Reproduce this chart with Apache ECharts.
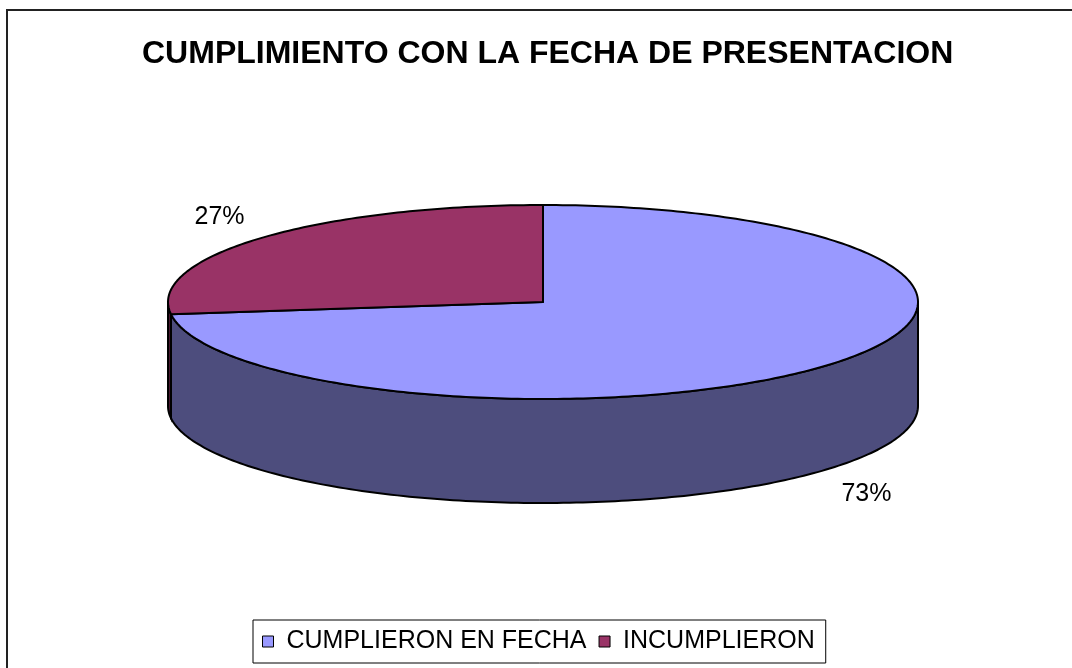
<!DOCTYPE html>
<html>
<head>
<meta charset="utf-8">
<script src="https://cdn.jsdelivr.net/npm/echarts@6/dist/echarts.min.js"></script>
<style>
  html, body { margin: 0; padding: 0; background: #fff; }
  #chart { width: 1072px; height: 668px; }
</style>
</head>
<body>
<div id="chart"></div>
<script>
// datos
var categories = ["CUMPLIERON EN FECHA", "INCUMPLIERON"];
var values = [73, 27];

var topColors = ["#9999ff", "#993366"];
var sideColors = ["#4d4d7d", "#4d1a33"];
var font = '"Liberation Sans", Arial, sans-serif';

// geometria del pastel 3D
var cx = 543, cy = 302, rx = 375, ry = 97, depth = 104;

var total = values.reduce(function (a, b) { return a + b; }, 0);
var slices = [];
var ang = 90;
values.forEach(function (v) {
  var sweep = v / total * 360;
  slices.push({ start: ang, end: ang - sweep, pct: Math.round(v / total * 100) + "%" });
  ang -= sweep;
});

function pt(deg, dy) {
  var r = deg * Math.PI / 180;
  return [cx + rx * Math.cos(r), cy - ry * Math.sin(r) + (dy || 0)];
}

function arc(from, to, dy) {
  var pts = [];
  var n = Math.max(2, Math.ceil(Math.abs(from - to)));
  for (var k = 0; k <= n; k++) {
    pts.push(pt(from + (to - from) * k / n, dy));
  }
  return pts;
}

function renderSlice(params, api) {
  var i = params.seriesIndex;
  var s = slices[i];
  var children = [];
  // lado frontal
  [[-180, 0], [-540, -360]].forEach(function (iv) {
    var hi = Math.min(s.start, iv[1]);
    var lo = Math.max(s.end, iv[0]);
    if (hi > lo) {
      children.push({
        type: "polygon",
        shape: { points: arc(hi, lo, 0).concat(arc(lo, hi, depth)) },
        style: { fill: sideColors[i], stroke: "#000", lineWidth: 2 }
      });
    }
  });
  // cara superior
  children.push({
    type: "polygon",
    shape: { points: [[cx, cy]].concat(arc(s.start, s.end, 0)) },
    style: { fill: topColors[i], stroke: "#000", lineWidth: 2, lineJoin: "round" }
  });
  // etiqueta
  var mid = (s.start + s.end) / 2 * Math.PI / 180;
  var lx = cx + 1.15 * rx * Math.cos(mid);
  var ly = cy - 1.35 * ry * Math.sin(mid) + (Math.sin(mid) < 0 ? depth : 0) + 2;
  children.push({
    type: "text",
    style: {
      text: s.pct, x: lx, y: ly, align: "center", verticalAlign: "middle",
      fill: "#000", font: "25px " + font
    }
  });
  return { type: "group", children: children };
}

var chart = echarts.init(document.getElementById("chart"));
var option = {
  backgroundColor: "#fff",
  animation: false,
  title: {
    text: "CUMPLIMIENTO CON LA FECHA DE PRESENTACION",
    left: 137,
    top: 33,
    textStyle: { fontFamily: font, fontSize: 32, fontWeight: "bold", color: "#000" }
  },
  legend: {
    data: categories,
    left: 253,
    top: 620,
    icon: "rect",
    itemWidth: 11,
    itemHeight: 11,
    itemGap: 12,
    padding: [9, 11, 9, 9],
    borderColor: "#000",
    borderWidth: 1,
    itemStyle: { borderColor: "#000", borderWidth: 1 },
    textStyle: { fontFamily: font, fontSize: 25, color: "#000", padding: [0, 0, 0, 8] }
  },
  graphic: [{
    type: "rect",
    shape: { x: 7, y: 10, width: 1200, height: 800 },
    style: { fill: "none", stroke: "#222", lineWidth: 2 },
    silent: true
  }],
  series: categories.map(function (name, i) {
    return {
      name: name,
      type: "custom",
      coordinateSystem: "none",
      silent: true,
      itemStyle: { color: topColors[i] },
      renderItem: renderSlice,
      data: [[values[i]]]
    };
  })
};
chart.setOption(option);
</script>
</body>
</html>
